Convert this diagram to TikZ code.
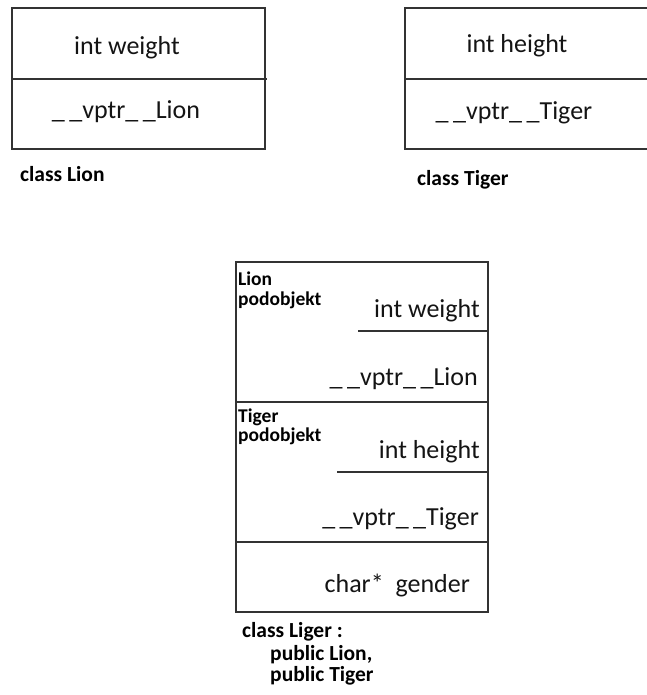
\documentclass[tikz,border=0pt]{standalone}
\usepackage{fontspec}
\setmainfont{Carlito}
% two underscores with a visible gap between them
\newcommand{\dunder}{\_\kern4.5pt\_}
\begin{document}
\begin{tikzpicture}[x=1pt,y=-1pt,
  frame/.style={draw=black!80,line width=1.3pt},
  field/.style={inner sep=0pt,text=black!92,font=\fontsize{26}{30}\selectfont},
  caption/.style={inner sep=0pt,anchor=base west,text=black,font=\bfseries\fontsize{21.5}{24}\selectfont},
  sublabel/.style={inner sep=0pt,anchor=base west,text=black,font=\bfseries\fontsize{19.5}{22}\selectfont}]
\useasboundingbox (0,0) rectangle (646,695);

% class Lion
\draw[frame] (12,8) rectangle (265,149);
\draw[frame] (12,79) -- (267,79);
\node[field,anchor=base] (lw) at (127,55) {int weight};
\node[field,anchor=base] (lv) at (126,119) {\dunder vptr\dunder Lion};
\node[caption] (lc) at (20,181) {class Lion};

% class Tiger (runs out past the right edge)
\draw[frame] (650,8) -- (405,8) -- (405,149) -- (650,149);
\draw[frame] (405,79) -- (650,79);
\node[field,anchor=base] (th) at (517,53) {int height};
\node[field,anchor=base] (tv) at (514,120) {\dunder vptr\dunder Tiger};
\node[caption] (tc) at (417,185) {class Tiger};

% class Liger
\draw[frame] (236,262) rectangle (488,612);
\draw[frame] (236,402) -- (488,402);
\draw[frame] (236,542) -- (488,542);
\draw[frame] (358,331) -- (488,331);
\draw[frame] (337,472) -- (488,472);

\node[sublabel] (ls1) at (238,285) {Lion};
\node[sublabel] (ls2) at (238,305) {podobjekt};
\node[field,anchor=base east] (gw) at (480,317) {int weight};
\node[field,anchor=base east] (gv) at (478,385) {\dunder vptr\dunder Lion};

\node[sublabel] (ts1) at (238,422) {Tiger};
\node[sublabel] (ts2) at (238,441) {podobjekt};
\node[field,anchor=base east] (gh) at (480,458) {int height};
\node[field,anchor=base east] (gt) at (479,525) {\dunder vptr\dunder Tiger};

\node[field,anchor=base east] (gg) at (470,592) {char*\ \ gender};

\node[caption] (gc1) at (242,637) {class Liger :};
\node[caption] (gc2) at (270,660) {public Lion,};
\node[caption] (gc3) at (270,681) {public Tiger};
\end{tikzpicture}
\end{document}
